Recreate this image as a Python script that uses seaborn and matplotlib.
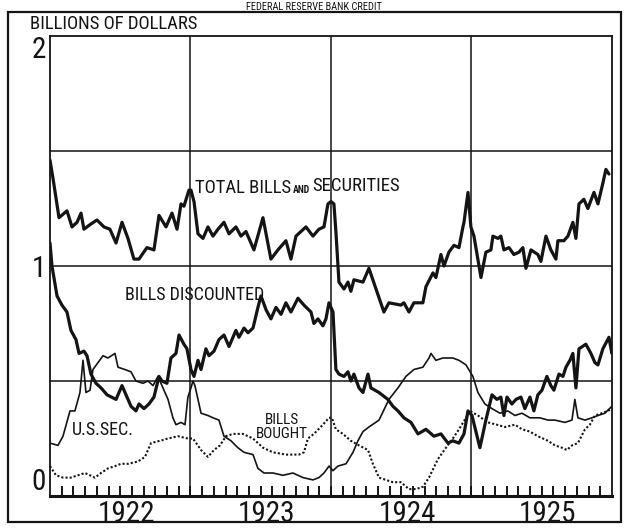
"""
Federal Reserve bank credit, 1922-1925
--------------------------------------
Weekly holdings redrawn from a scanned chart (values read off the picture).
"""

import matplotlib
matplotlib.use("Agg")

import matplotlib.pyplot as plt
import matplotlib.patches as mpatches
from matplotlib import font_manager
import seaborn as sns

# ==========================================================
# Data (x = months since January 1922, y = billions of dollars)
# ==========================================================

YEARS = ["1922", "1923", "1924", "1925"]

total_months = [
    0.00, 0.26, 0.77, 1.45, 1.88, 2.31, 2.65, 2.90, 3.42, 4.01, 4.61, 5.12,
    5.64, 6.15, 6.66, 7.17, 7.60, 8.28, 8.88, 9.31, 9.91, 10.42, 10.85, 11.19,
    11.44, 11.87, 12.04, 12.30, 12.64, 13.07, 13.49, 13.92, 14.35, 14.86,
    15.29, 15.88, 16.31, 16.74, 17.42, 18.19, 18.87, 19.47, 20.15, 20.58,
    21.01, 21.86, 22.46, 22.97, 23.40, 23.74, 24.00, 24.25, 24.42, 24.68,
    25.11, 25.45, 25.70, 25.96, 26.73, 27.24, 28.52, 28.95, 29.97, 30.23,
    30.66, 31.08, 31.85, 32.11, 32.71, 32.96, 33.39, 33.65, 34.07, 34.50,
    34.93, 35.27, 35.36, 35.70, 35.95, 36.21, 36.81, 37.23, 37.66, 37.83,
    38.26, 38.51, 38.77, 39.20, 39.62, 40.05, 40.39, 40.65, 41.08, 41.67,
    41.93, 42.36, 42.78, 43.21, 43.38, 43.89, 44.24, 44.66, 44.92, 45.18,
    45.60, 45.94, 46.46, 46.80, 47.22, 47.48, 47.74,
]
total_values = [
    1.46, 1.38, 1.21, 1.24, 1.17, 1.19, 1.23, 1.16, 1.18, 1.20, 1.17, 1.16,
    1.10, 1.19, 1.12, 1.03, 1.03, 1.08, 1.07, 1.22, 1.17, 1.23, 1.16, 1.27,
    1.26, 1.33, 1.33, 1.28, 1.14, 1.12, 1.17, 1.13, 1.16, 1.19,
    1.14, 1.17, 1.13, 1.15, 1.07, 1.21, 1.03, 1.07, 1.11, 1.03,
    1.13, 1.17, 1.13, 1.16, 1.17, 1.27, 1.28, 1.27, 1.15, 0.93,
    0.90, 0.93, 0.89, 0.94, 0.93, 0.99, 0.80, 0.84, 0.83, 0.84,
    0.80, 0.84, 0.84, 0.91, 0.97, 0.95, 1.05, 1.00, 1.06, 1.09,
    1.08, 1.17, 1.19, 1.32, 1.17, 1.13, 0.95, 1.06, 1.07, 1.13,
    1.12, 1.13, 1.07, 1.08, 1.05, 1.06, 1.08, 0.99, 1.07, 1.05,
    1.02, 1.13, 1.07, 1.03, 1.11, 1.11, 1.13, 1.19, 1.12, 1.27,
    1.29, 1.25, 1.32, 1.27, 1.36, 1.42, 1.40,
]

discounted_months = [
    0.00, 0.17, 0.60, 1.02, 1.45, 1.79, 2.22, 2.48, 2.90, 3.16, 3.50, 3.93,
    4.36, 4.87, 5.64, 6.15, 6.92, 7.34, 7.60, 8.03, 8.45, 8.88, 9.31, 9.56,
    9.99, 10.33, 10.76, 11.02, 11.44, 11.70, 12.04, 12.30, 12.64, 12.90,
    13.32, 13.58, 14.01, 14.43, 14.86, 15.29, 15.88, 16.14, 16.57, 16.91,
    17.34, 17.76, 18.02, 18.45, 18.87, 19.30, 19.73, 20.15, 20.58, 21.18,
    21.69, 22.29, 22.54, 22.89, 23.31, 23.57, 23.83, 24.17, 24.42, 24.68,
    25.11, 25.45, 25.70, 25.96, 26.39, 26.73, 27.16, 27.41, 28.10, 28.86,
    29.29, 29.72, 30.23, 30.83, 31.43, 32.11, 32.79, 33.39, 33.99, 34.41,
    34.93, 35.36, 35.70, 36.04, 36.38, 36.72, 37.23, 37.75, 38.17, 38.51,
    38.77, 39.03, 39.45, 39.80, 40.22, 40.56, 40.99, 41.33, 41.67, 42.02,
    42.44, 42.78, 43.04, 43.47, 43.81, 44.07, 44.41, 44.66, 44.92, 45.18,
    45.77, 46.20, 46.54, 46.80, 47.22, 47.74, 47.99,
]
discounted_values = [
    1.10, 1.00, 0.87, 0.83, 0.80, 0.72, 0.68, 0.62, 0.63, 0.61, 0.53, 0.49,
    0.47, 0.44, 0.42, 0.48, 0.39, 0.37, 0.40, 0.38, 0.40, 0.43, 0.52, 0.50,
    0.49, 0.60, 0.62, 0.70, 0.66, 0.64, 0.55, 0.52, 0.59, 0.55,
    0.64, 0.61, 0.63, 0.68, 0.70, 0.65, 0.72, 0.69, 0.73, 0.71,
    0.73, 0.82, 0.87, 0.81, 0.77, 0.82, 0.79, 0.84, 0.80, 0.86,
    0.83, 0.80, 0.75, 0.77, 0.74, 0.77, 0.84, 0.80, 0.55, 0.53,
    0.52, 0.54, 0.50, 0.53, 0.47, 0.45, 0.53, 0.47, 0.45, 0.42,
    0.39, 0.37, 0.34, 0.32, 0.27, 0.29, 0.26, 0.27, 0.23, 0.24,
    0.23, 0.27, 0.37, 0.35, 0.28, 0.21, 0.33, 0.44, 0.42, 0.43,
    0.35, 0.43, 0.40, 0.42, 0.43, 0.38, 0.43, 0.37, 0.44, 0.46,
    0.52, 0.48, 0.46, 0.53, 0.52, 0.56, 0.59, 0.62, 0.47, 0.64,
    0.66, 0.62, 0.58, 0.57, 0.64, 0.69, 0.62,
]

us_sec_months = [
    0.00, 0.68, 1.11, 1.71, 2.13, 2.56, 2.82, 3.07, 3.42, 3.67, 4.10, 4.53,
    4.95, 5.55, 5.81, 6.40, 6.92, 7.34, 7.94, 8.37, 8.80, 9.22, 9.65, 10.08,
    10.50, 10.76, 11.19, 11.53, 11.78, 12.04, 12.21, 12.38, 12.90, 13.49,
    13.92, 14.43, 14.86, 15.46, 16.05, 16.57, 17.34, 17.76, 18.28, 19.04,
    19.90, 20.75, 21.61, 22.46, 22.97, 23.40, 23.83, 24.17, 24.59, 25.28,
    25.88, 26.30, 26.73, 27.24, 28.10, 28.95, 29.72, 30.40, 31.08, 31.85,
    32.37, 32.54, 32.96, 33.56, 34.41, 34.93, 35.53, 36.12, 36.55, 37.15,
    37.75, 38.43, 39.11, 39.71, 40.31, 40.99, 41.84, 42.53, 43.13, 43.98,
    44.58, 44.83, 45.09, 45.69, 46.29, 46.80, 47.39, 47.99,
]
us_sec_values = [
    0.23, 0.22, 0.26, 0.37, 0.37, 0.45, 0.59, 0.45, 0.46, 0.55, 0.58, 0.61,
    0.60, 0.62, 0.56, 0.55, 0.54, 0.50, 0.49, 0.50, 0.48, 0.52, 0.47, 0.42,
    0.34, 0.31, 0.32, 0.31, 0.43, 0.47, 0.50, 0.48, 0.36, 0.35,
    0.34, 0.33, 0.26, 0.24, 0.21, 0.19, 0.18, 0.12, 0.10, 0.10,
    0.09, 0.10, 0.08, 0.07, 0.08, 0.10, 0.13, 0.11, 0.13, 0.14,
    0.19, 0.24, 0.28, 0.30, 0.33, 0.42, 0.47, 0.52, 0.55, 0.56,
    0.60, 0.62, 0.59, 0.60, 0.60, 0.59, 0.57, 0.52, 0.45, 0.40,
    0.38, 0.36, 0.37, 0.35, 0.36, 0.34, 0.34, 0.33, 0.33, 0.32,
    0.33, 0.42, 0.34, 0.33, 0.34, 0.35, 0.36, 0.39,
]

bought_months = [
    0.00, 0.51, 1.11, 1.79, 2.39, 2.99, 3.84, 4.36, 4.95, 5.55, 6.06, 6.66,
    7.51, 8.11, 8.63, 9.39, 10.08, 10.93, 11.78, 12.21, 12.90, 13.49, 14.01,
    14.52, 15.03, 15.63, 16.48, 17.34, 18.19, 19.04, 20.15, 21.26, 21.69,
    22.03, 22.54, 23.31, 23.83, 24.08, 24.42, 25.02, 25.70, 26.39, 27.16,
    27.58, 28.10, 28.69, 29.29, 29.97, 30.66, 31.26, 31.85, 32.37, 33.13,
    33.82, 34.41, 34.93, 35.53, 35.87, 36.55, 37.40, 38.17, 38.86, 39.71,
    40.31, 40.99, 41.67, 42.53, 43.13, 43.72, 44.15, 44.58, 45.09, 45.69,
    46.11, 46.54, 47.14, 47.65, 47.99,
]
bought_values = [
    0.13, 0.09, 0.08, 0.08, 0.09, 0.10, 0.08, 0.10, 0.12, 0.13, 0.14, 0.14,
    0.15, 0.17, 0.23, 0.24, 0.25, 0.26, 0.25, 0.25, 0.20, 0.17, 0.20,
    0.22, 0.26, 0.27, 0.27, 0.25, 0.21, 0.19, 0.18, 0.18, 0.19,
    0.25, 0.27, 0.31, 0.34, 0.34, 0.29, 0.27, 0.24, 0.22, 0.20,
    0.14, 0.08, 0.07, 0.06, 0.06, 0.03, 0.03, 0.04, 0.08, 0.16,
    0.21, 0.25, 0.29, 0.34, 0.37, 0.35, 0.32, 0.31, 0.30, 0.31,
    0.29, 0.28, 0.26, 0.24, 0.22, 0.21, 0.20, 0.22, 0.23, 0.29,
    0.31, 0.35, 0.36, 0.37, 0.38,
]

# ==========================================================
# Style
# ==========================================================

sns.set_theme(style="white")

available = {f.name for f in font_manager.fontManager.ttflist}
FONT = next(
    name for name in ["Liberation Sans Narrow", "Roboto Condensed", "DejaVu Sans"]
    if name in available
)
plt.rcParams["font.family"] = [FONT, "DejaVu Sans"]

INK = "#141414"

# ==========================================================
# Figure
# ==========================================================

fig = plt.figure(figsize=(6.28, 5.28), dpi=100)
ax = fig.add_axes([0.0796, 0.0606, 0.8949, 0.8712])

# grid
for v in [0.5, 1.0, 1.5]:
    ax.axhline(v, color=INK, lw=1.1, zorder=1)
for m in [12, 24, 36]:
    ax.axvline(m, color=INK, lw=1.1, zorder=1)

# series
sns.lineplot(x=total_months, y=total_values, ax=ax, color=INK, lw=2.3,
             estimator=None, sort=False, zorder=3)
sns.lineplot(x=discounted_months, y=discounted_values, ax=ax, color=INK,
             lw=2.3, estimator=None, sort=False, zorder=3)
sns.lineplot(x=us_sec_months, y=us_sec_values, ax=ax, color=INK, lw=1.2,
             estimator=None, sort=False, zorder=3)
sns.lineplot(x=bought_months, y=bought_values, ax=ax, color=INK, lw=1.5,
             linestyle=(0, (1.0, 1.0)), estimator=None, sort=False, zorder=3)

ax.set_xlim(0, 48)
ax.set_ylim(0, 2)
ax.set_xlabel("")
ax.set_ylabel("")

# axes frame
for side, spine in ax.spines.items():
    spine.set_visible(True)
    spine.set_color(INK)
    spine.set_linewidth(1.3)
ax.spines["bottom"].set_linewidth(2.2)

# x ticks: monthly marks inside, year names mid-year
ax.set_xticks([6.5, 18.5, 30.5, 42.5])
ax.set_xticklabels(YEARS, fontsize=21)
ax.set_xticks(range(1, 48), minor=True)
ax.tick_params(axis="x", which="major", length=0, pad=3, colors=INK)
ax.tick_params(axis="x", which="minor", direction="in", length=7,
               width=1.4, bottom=True, color=INK)

ax.set_yticks([0, 1, 2])
ax.set_yticklabels(["0", "1", "2"], fontsize=21)
ax.tick_params(axis="y", length=0, pad=3, colors=INK)
ylabels = ax.get_yticklabels()
ylabels[0].set_va("bottom")
ylabels[2].set_va("top")

# ==========================================================
# Labels
# ==========================================================

t1 = ax.text(12.38, 1.34, "TOTAL BILLS", fontsize=13.5, color=INK,
             va="center", zorder=4)
t2 = ax.annotate("AND", xy=(1, 0.08), xycoords=t1, xytext=(1.5, 0),
                 textcoords="offset points", fontsize=7, color=INK,
                 va="bottom", ha="left", fontweight="bold")
ax.annotate("SECURITIES", xy=(1, 0), xycoords=t2, xytext=(1.5, 0),
            textcoords="offset points", fontsize=13.5, color=INK,
            va="bottom", ha="left")

ax.text(6.4, 0.874, "BILLS DISCOUNTED", fontsize=13, color=INK,
        va="center", zorder=4)
ax.text(1.9, 0.287, "U.S.SEC.", fontsize=13, color=INK, va="center",
        zorder=4)
ax.text(19.8, 0.30, "BILLS\nBOUGHT", fontsize=11, color=INK, ha="center",
        va="center", linespacing=0.95, zorder=4)

fig.text(30 / 628, 1 - 33 / 528, "BILLIONS OF DOLLARS", fontsize=13.5,
         color=INK, va="bottom", ha="left")
fig.text(0.5, 1 - 10 / 528, "FEDERAL RESERVE BANK CREDIT", fontsize=7.5,
         color=INK, va="baseline", ha="center")

# outer frame around the whole chart
fig.patches.append(mpatches.Rectangle(
    (8 / 628, 1 - 522 / 528), 613 / 628, 510 / 528,
    transform=fig.transFigure, fill=False, lw=1.6, edgecolor=INK))

fig.savefig("out.png", dpi=100)
plt.close(fig)
